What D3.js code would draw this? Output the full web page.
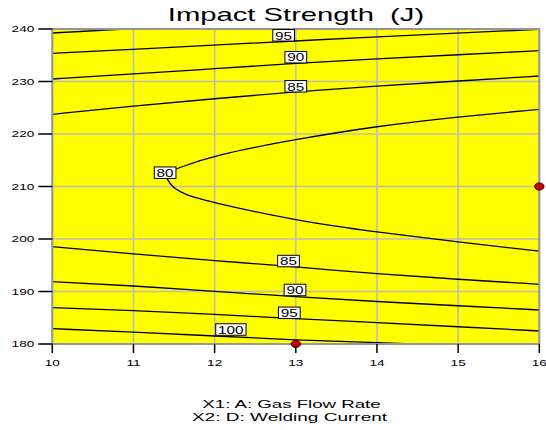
<!DOCTYPE html>
<html>
<head>
<meta charset="utf-8">
<script src="https://cdn.jsdelivr.net/npm/d3@7"></script>
<style>
  body { margin: 0; background: #fff; }
  text { font-family: "Liberation Sans", Arial, sans-serif; fill: #000; }
</style>
</head>
<body>
<div id="chart"></div>
<script>
// axis ticks
var xTicks = [10, 11, 12, 13, 14, 15, 16];
var yTicks = [180, 190, 200, 210, 220, 230, 240];

// contour lines: [gas flow rate, welding current]
var c100Top = [[10, 239.24], [10.89, 240]];
var c95Top = [[10, 235.37], [11, 236.13], [13, 237.77], [16, 239.94]];
var c90Top = [[10, 230.48], [11, 231.43], [12, 232.45], [13, 233.47], [14, 234.3], [15, 235.1], [16, 235.87]];
var c85Top = [[10, 223.75], [11, 225.33], [12, 226.72], [13, 228.06], [14, 229.14], [15, 230.1], [16, 231.05]];
var c80 = [[16, 224.7], [15, 223.3], [14, 221.5], [13, 219.0], [12, 216.0], [11.54, 213.47], [11.38, 212.4],
           [11.42, 211.37], [11.47, 209.96], [11.63, 208.4], [12, 206.86], [13, 203.5], [14, 201.3], [15, 199.4], [16, 197.7]];
var c85Bot = [[10, 198.53], [11, 197.14], [12, 195.87], [13, 194.72], [14, 193.33], [15, 192.32], [16, 191.37]];
var c90Bot = [[10, 191.87], [11, 191.1], [12, 190.0], [13, 189.01], [14, 188.06], [15, 187.3], [16, 186.48]];
var c95Bot = [[10, 186.91], [11, 186.4], [12, 185.66], [13, 184.82], [14, 184.06], [15, 183.3], [16, 182.48]];
var c100Bot = [[10, 182.91], [11, 182.3], [12, 181.52], [13, 180.76], [14, 180.25], [14.52, 180]];
var contours = [c100Top, c95Top, c90Top, c85Top, c80, c85Bot, c90Bot, c95Bot, c100Bot];

// contour labels
var labelValues = [95, 90, 85, 80, 85, 90, 95, 100];
var labelX = [12.85, 13.0, 13.0, 11.39, 12.91, 12.99, 12.92, 12.2];
var labelY = [238.8, 234.63, 229.09, 212.63, 195.8, 190.29, 185.94, 182.76];

// design points
var pointX = [13, 16];
var pointY = [180, 210];

var width = 546, height = 430;
var margin = {top: 29, right: 6.7, bottom: 86, left: 52.3};
var SX = 1.6; // the original text is drawn wide

var svg = d3.select("#chart").append("svg")
    .attr("width", width)
    .attr("height", height);

var x = d3.scaleLinear().domain([10, 16]).range([margin.left, width - margin.right]);
var y = d3.scaleLinear().domain([180, 240]).range([height - margin.bottom, margin.top]);

function wideText(sel, px, py, str, size, anchor, sx) {
    return sel.append("text")
        .attr("transform", "translate(" + px + "," + py + ") scale(" + (sx || SX) + ",1)")
        .attr("text-anchor", anchor || "middle")
        .style("font-size", size + "px")
        .style("white-space", "pre")
        .text(str);
}

svg.append("defs").append("clipPath").attr("id", "plotClip")
    .append("rect")
    .attr("x", x(10)).attr("y", y(240))
    .attr("width", x(16) - x(10)).attr("height", y(180) - y(240));

// background
svg.append("rect")
    .attr("x", x(10)).attr("y", y(240))
    .attr("width", x(16) - x(10)).attr("height", y(180) - y(240))
    .attr("fill", "#ffff00");

// grid
var grid = svg.append("g");
grid.selectAll(".gx").data(xTicks).enter().append("line")
    .attr("x1", d => x(d)).attr("x2", d => x(d))
    .attr("y1", y(240)).attr("y2", y(180))
    .attr("stroke", "#bcbcbc").attr("stroke-width", 1.6);
grid.selectAll(".gy").data(yTicks).enter().append("line")
    .attr("x1", x(10)).attr("x2", x(16))
    .attr("y1", d => y(d)).attr("y2", d => y(d))
    .attr("stroke", "#bcbcbc").attr("stroke-width", 1.6);

// contours
var line = d3.line()
    .x(d => x(d[0]))
    .y(d => y(d[1]))
    .curve(d3.curveBasis);

svg.append("g").attr("clip-path", "url(#plotClip)")
    .selectAll("path").data(contours).enter().append("path")
    .attr("d", line)
    .attr("fill", "none")
    .attr("stroke", "#000")
    .attr("stroke-width", 1.3);

// frame
svg.append("rect")
    .attr("x", x(10)).attr("y", y(240))
    .attr("width", x(16) - x(10)).attr("height", y(180) - y(240))
    .attr("fill", "none")
    .attr("stroke", "#969696").attr("stroke-width", 2);

// contour labels
var labels = svg.append("g");
labelValues.forEach(function (v, i) {
    var s = String(v);
    var w = 4.5 + 8.6 * s.length, h = 11.5;
    var cx = x(labelX[i]), cy = y(labelY[i]);
    labels.append("rect")
        .attr("x", cx - w / 2).attr("y", cy - h / 2)
        .attr("width", w).attr("height", h)
        .attr("fill", "#fff").attr("stroke", "#000").attr("stroke-width", 1);
    wideText(labels, cx, cy + 4.3, s, 10.2, "middle", 1.5);
});

// design points
svg.append("g").selectAll("ellipse").data(pointX).enter().append("ellipse")
    .attr("cx", d => x(d))
    .attr("cy", (d, i) => y(pointY[i]))
    .attr("rx", 4.7).attr("ry", 3.6)
    .attr("fill", "#cc0000").attr("stroke", "#4a0000").attr("stroke-width", 1);

// y axis ticks
var yAxis = svg.append("g");
yTicks.forEach(function (t) {
    yAxis.append("line")
        .attr("x1", x(10) - 14).attr("x2", x(10))
        .attr("y1", y(t)).attr("y2", y(t))
        .attr("stroke", "#000").attr("stroke-width", 1.5);
    wideText(yAxis, x(10) - 18, y(t) + 3.3, String(t), 8.8, "end", 1.55);
});

// x axis ticks
var xAxis = svg.append("g");
xTicks.forEach(function (t) {
    xAxis.append("line")
        .attr("x1", x(t)).attr("x2", x(t))
        .attr("y1", y(180)).attr("y2", y(180) + 9)
        .attr("stroke", "#000").attr("stroke-width", 1.5);
    wideText(xAxis, x(t), y(180) + 22, String(t), 8.8, "middle", 1.55);
});

// title and axis names
wideText(svg, 296, 20.7, "Impact Strength  (J)", 18.6, "middle", 1.57);
wideText(svg, 291.5, 408.3, "X1: A: Gas Flow Rate", 11.6, "middle", 1.61);
wideText(svg, 289.5, 420.7, "X2: D: Welding Current", 11.6, "middle", 1.64);
</script>
</body>
</html>
